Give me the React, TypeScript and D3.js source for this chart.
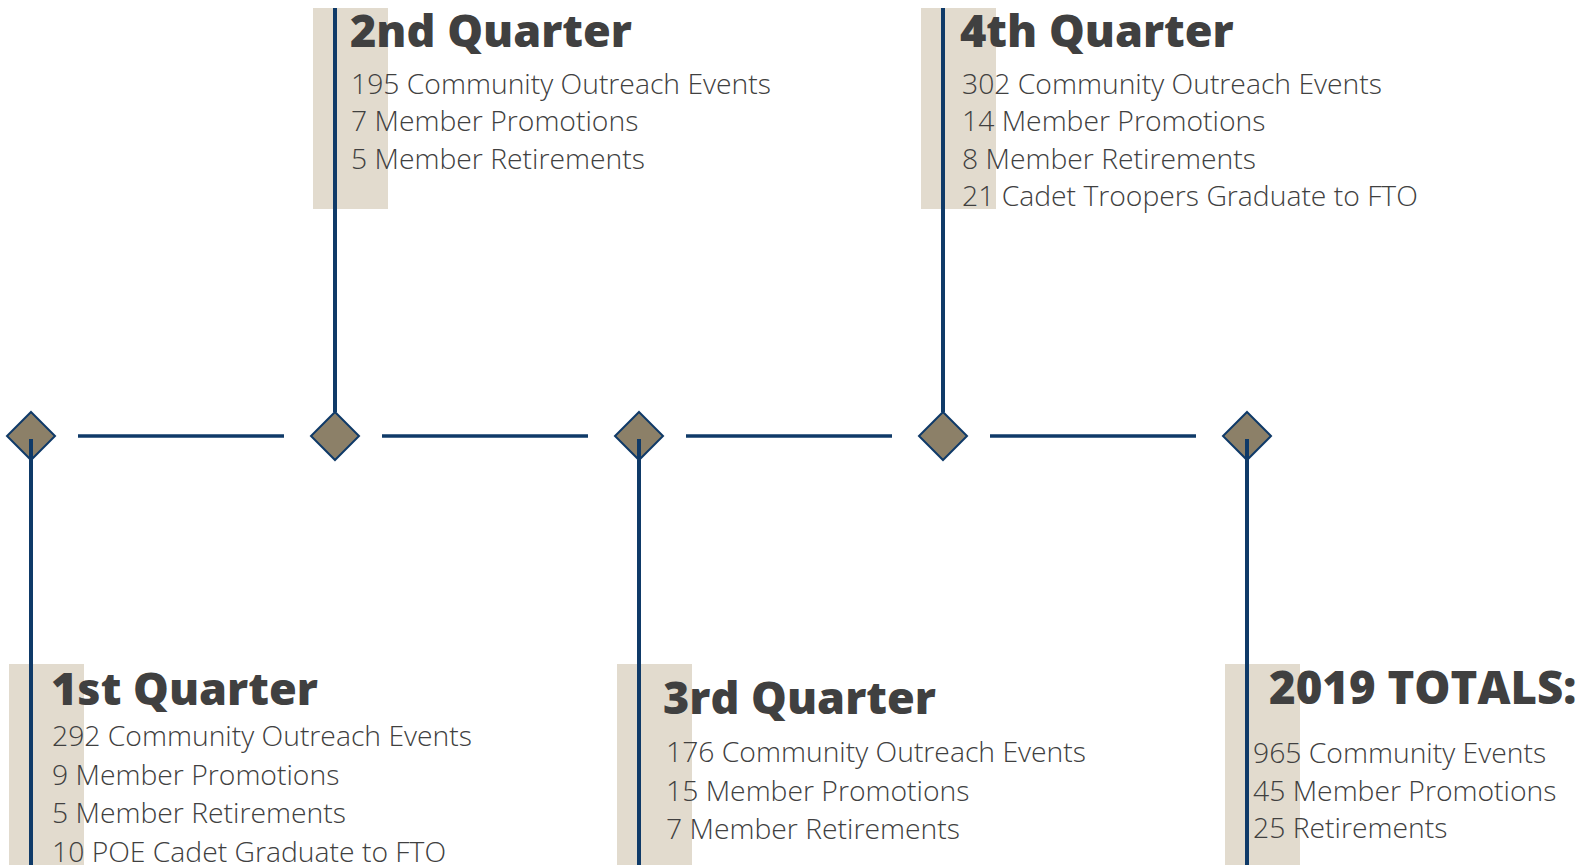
import React from "react";
import * as d3 from "d3";

// ---- data ----
const titles = ["1st Quarter", "2nd Quarter", "3rd Quarter", "4th Quarter", "2019 TOTALS:"];
const outreachCounts = [292, 195, 176, 302, 965];
const outreachLabels = [
  "Community Outreach Events",
  "Community Outreach Events",
  "Community Outreach Events",
  "Community Outreach Events",
  "Community Events",
];
const promotionCounts = [9, 7, 15, 14, 45];
const promotionLabels = ["Member Promotions", "Member Promotions", "Member Promotions", "Member Promotions", "Member Promotions"];
const retirementCounts = [5, 5, 7, 8, 25];
const retirementLabels = ["Member Retirements", "Member Retirements", "Member Retirements", "Member Retirements", "Retirements"];
const graduateCounts: (number | null)[] = [10, null, null, 21, null];
const graduateLabels = ["POE Cadet Graduate to FTO", "", "", "Cadet Troopers Graduate to FTO", ""];
const sides = ["below", "above", "below", "above", "below"];

// ---- styling / layout ----
const W = 1587;
const H = 865;
const NAVY = "#0f3a68";
const DIAMOND = "#8c8068";
const BAND = "#e2dbce";
const TEXT = "#404040";
const TITLE_FONT = "'Open Sans', 'DejaVu Sans', sans-serif";
const BODY_FONT = "'Open Sans', 'DejaVu Sans', sans-serif";

// per block text offsets (relative to the block's stem)
const blockStyle = [
  { titleDx: 20, itemDx: 21, titleY: 705, firstY: 746, step: 38.5 },
  { titleDx: 15, itemDx: 16, titleY: 46.5, firstY: 93.5, step: 37.5 },
  { titleDx: 24, itemDx: 27, titleY: 714, firstY: 762, step: 38.5 },
  { titleDx: 17, itemDx: 19, titleY: 46.5, firstY: 93.5, step: 37.5 },
  { titleDx: 22, itemDx: 6, titleY: 704, firstY: 763, step: 37.5 },
];

export default function App() {
  const x = d3.scalePoint<string>().domain(titles).range([31, 1247]);
  const timelineY = 436;
  const half = 24;
  const topBandY = 8;
  const bandH = 201;
  const bottomBandY = 664;

  const blocks = titles.map((t, i) => {
    const items: string[] = [
      `${outreachCounts[i]} ${outreachLabels[i]}`,
      `${promotionCounts[i]} ${promotionLabels[i]}`,
      `${retirementCounts[i]} ${retirementLabels[i]}`,
    ];
    if (graduateCounts[i] != null) items.push(`${graduateCounts[i]} ${graduateLabels[i]}`);
    return { title: t, items, side: sides[i], cx: x(t) as number, style: blockStyle[i] };
  });

  const diamondPath = (cx: number) => {
    const p = d3.path();
    p.moveTo(cx, timelineY - half);
    p.lineTo(cx + half, timelineY);
    p.lineTo(cx, timelineY + half);
    p.lineTo(cx - half, timelineY);
    p.closePath();
    return p.toString();
  };

  const segments = d3.pairs(blocks);

  return (
    <svg
      width={W}
      height={H}
      style={{ position: "absolute", left: 0, top: 0, display: "block", background: "#fff" }}
    >
      {/* bands */}
      {blocks.map((b, i) => (
        <rect
          key={"band" + i}
          x={b.cx - 22}
          y={b.side === "above" ? topBandY : bottomBandY}
          width={75}
          height={b.side === "above" ? bandH : H - bottomBandY}
          fill={BAND}
        />
      ))}
      {/* horizontal segments */}
      {segments.map(([a, b], i) => (
        <line
          key={"seg" + i}
          x1={a.cx + half + 23}
          x2={b.cx - half - 27}
          y1={timelineY}
          y2={timelineY}
          stroke={NAVY}
          strokeWidth={3.5}
        />
      ))}
      {/* diamonds */}
      {blocks.map((b, i) => (
        <path key={"dia" + i} d={diamondPath(b.cx)} fill={DIAMOND} stroke={NAVY} strokeWidth={2} />
      ))}
      {/* stems */}
      {blocks.map((b, i) => (
        <line
          key={"stem" + i}
          x1={b.cx}
          x2={b.cx}
          y1={b.side === "above" ? topBandY : timelineY + 3}
          y2={b.side === "above" ? timelineY - half : H}
          stroke={NAVY}
          strokeWidth={4}
        />
      ))}
      {/* text */}
      {blocks.map((b, i) => (
        <g key={"txt" + i} fill={TEXT}>
          <text
            x={b.cx + b.style.titleDx}
            y={b.style.titleY}
            fontFamily={TITLE_FONT}
            fontWeight={800}
            fontSize={i === 4 ? 45.5 : 45}
          >
            {b.title}
          </text>
          {b.items.map((it, j) => (
            <text
              key={j}
              x={b.cx + b.style.itemDx}
              y={b.style.firstY + j * b.style.step}
              fontFamily={BODY_FONT}
              fontWeight={300}
              fontSize={28.3}
            >
              {it}
            </text>
          ))}
        </g>
      ))}
    </svg>
  );
}
